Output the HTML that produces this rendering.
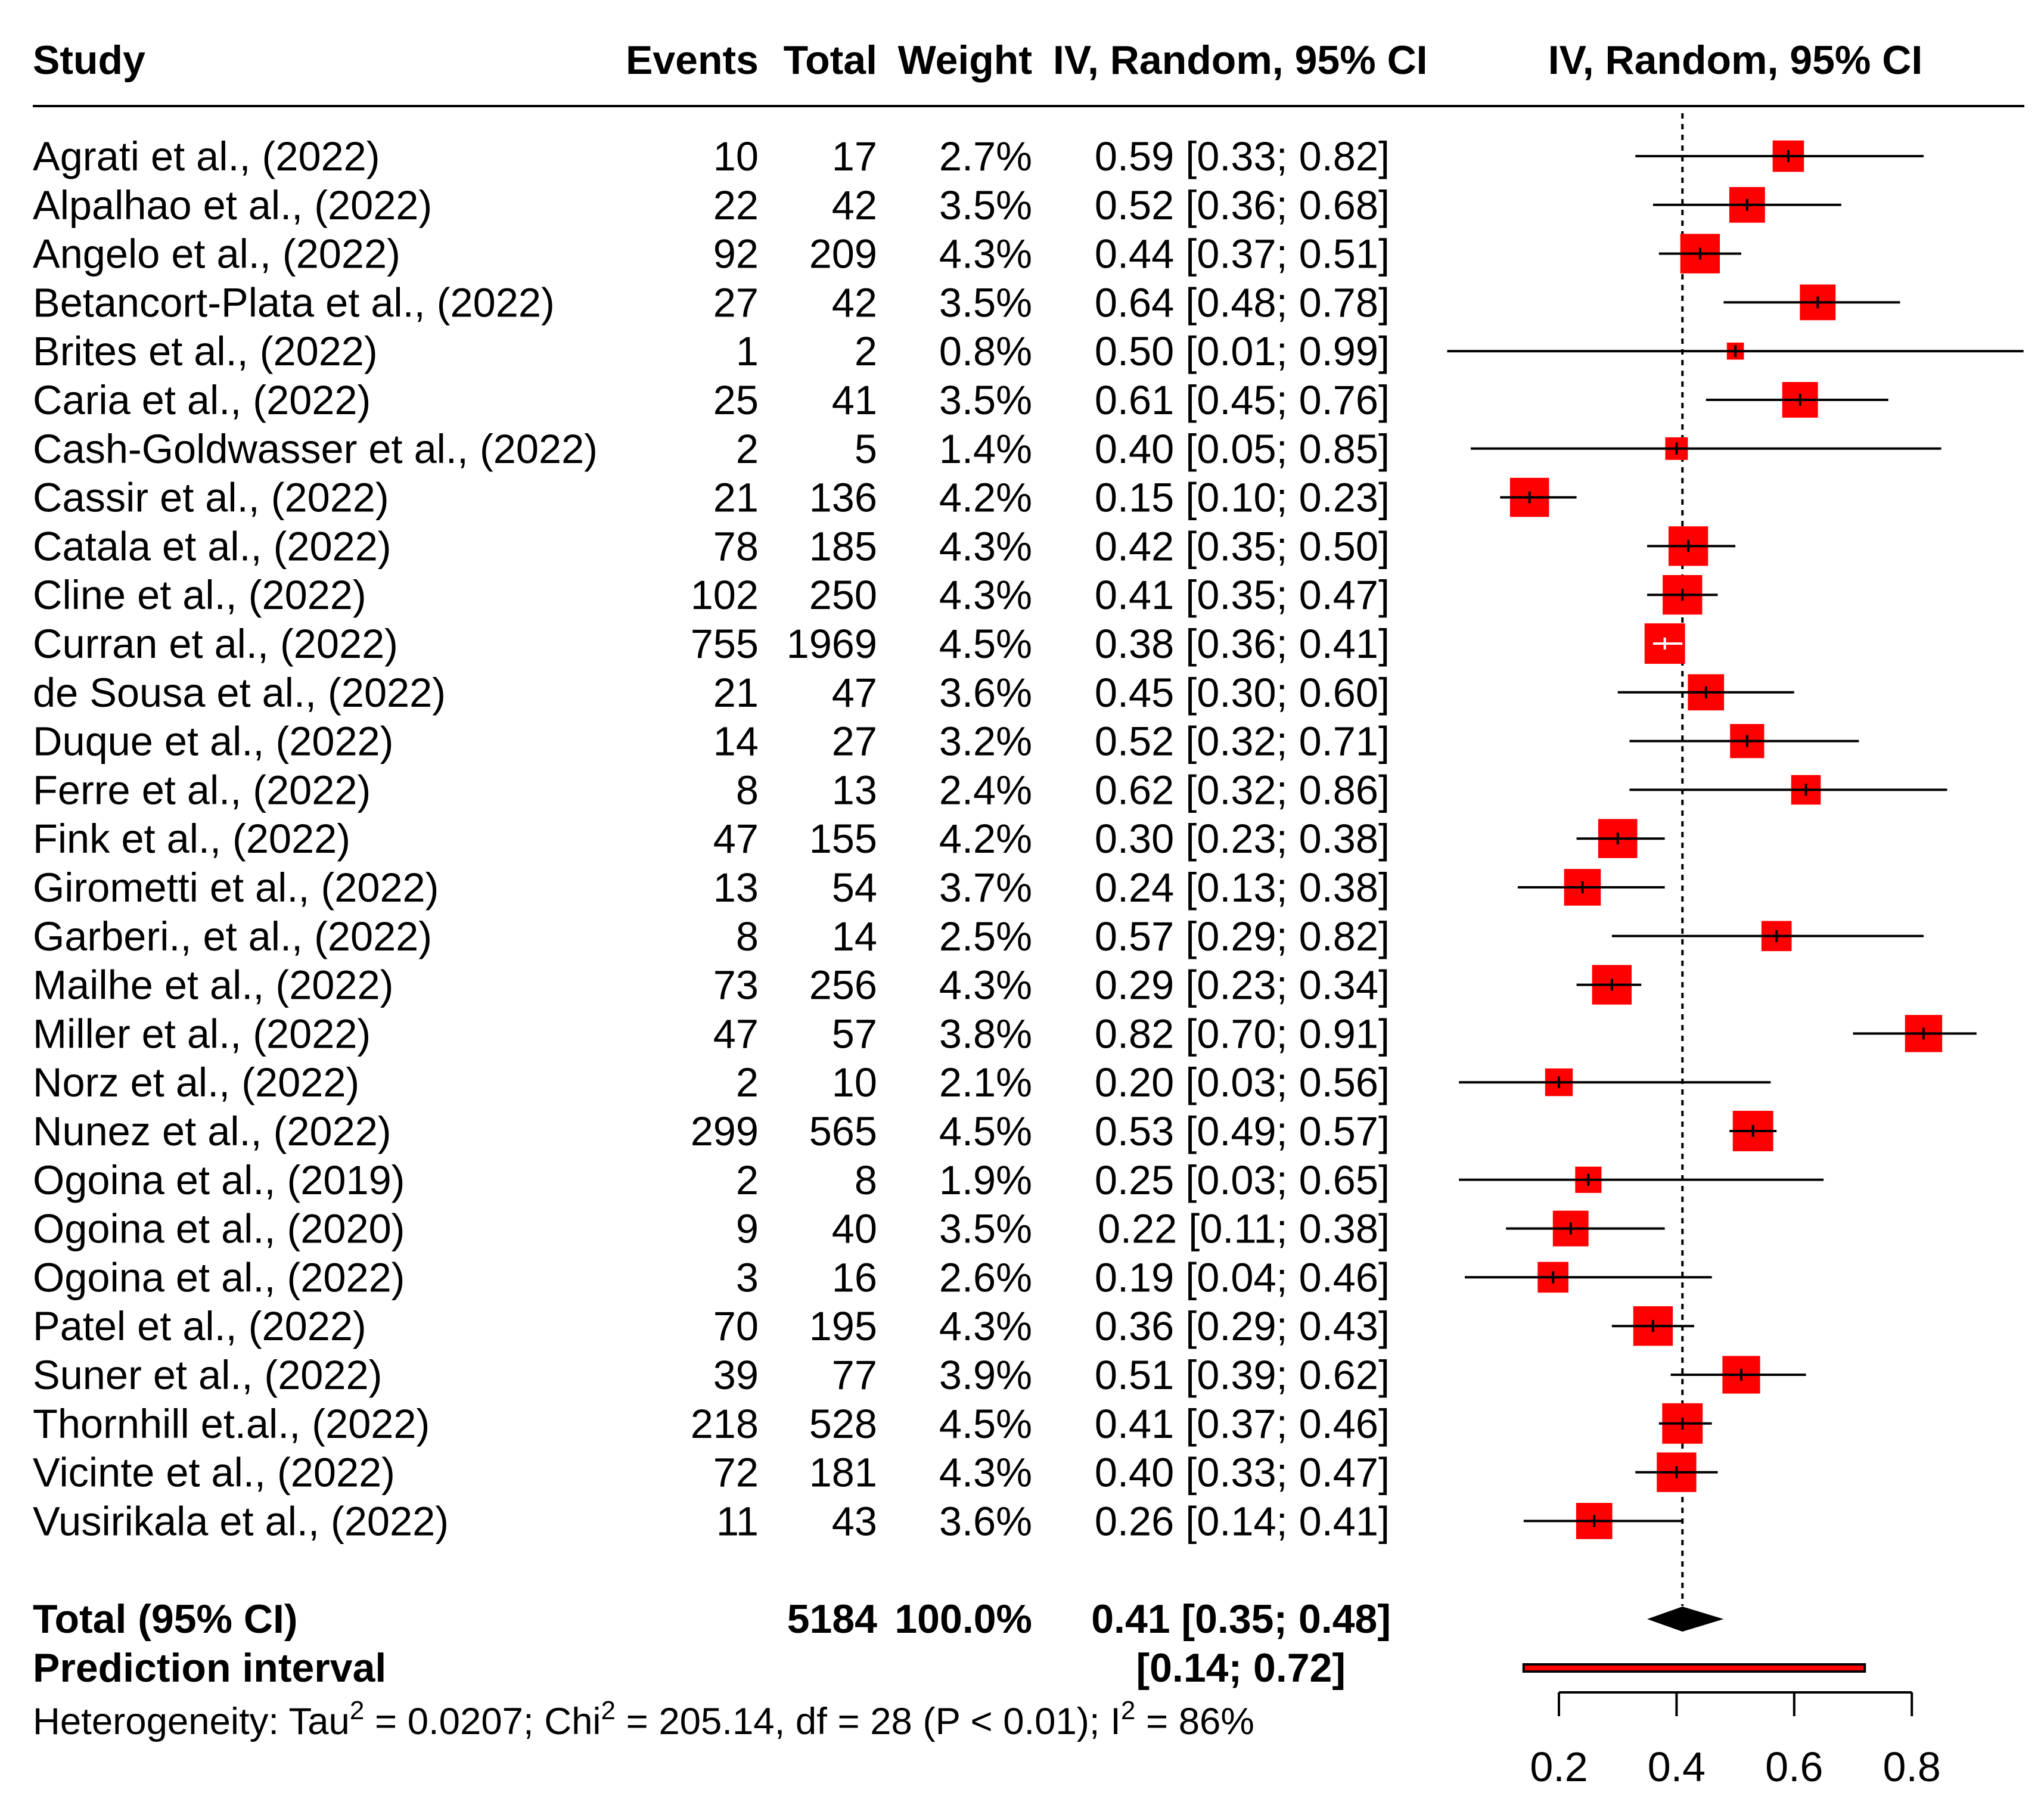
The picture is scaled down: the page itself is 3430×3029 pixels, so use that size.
<!DOCTYPE html>
<html><head><meta charset="utf-8"><style>
html,body{margin:0;padding:0;background:#fff;}
svg{display:block;font-family:"Liberation Sans",Arial,sans-serif;}
</style></head><body>
<svg id="chart" xmlns="http://www.w3.org/2000/svg" width="3430" height="3029" viewBox="0 0 3430 3029">
<rect width="3430" height="3029" fill="#fff"/>
<g font-weight="bold" font-size="68">
<text x="55" y="124">Study</text>
<text x="1273" y="124" text-anchor="end">Events</text>
<text x="1472" y="124" text-anchor="end">Total</text>
<text x="1732" y="124" text-anchor="end">Weight</text>
<text x="1767" y="124">IV, Random, 95% CI</text>
<text x="2912" y="124" text-anchor="middle">IV, Random, 95% CI</text>
</g>
<line x1="55" y1="178" x2="3397" y2="178" stroke="#000" stroke-width="4"/>
<g id="rows"></g>
<g id="plot"></g>
<g font-weight="bold" font-size="68">
<text x="55" y="2740">Total (95% CI)</text>
<text x="1472" y="2740" text-anchor="end">5184</text>
<text x="1732" y="2740" text-anchor="end">100.0%</text>
<text x="2334" y="2740" text-anchor="end">0.41 [0.35; 0.48]</text>
<text x="55" y="2822">Prediction interval</text>
<text x="2258" y="2822" text-anchor="end">[0.14; 0.72]</text>
</g>
<text x="55" y="2910" font-size="63.5">Heterogeneity: Tau<tspan dy="-25" font-size="44">2</tspan><tspan dy="25"> = 0.0207; Chi</tspan><tspan dy="-25" font-size="44">2</tspan><tspan dy="25"> = 205.14, df = 28 (P &lt; 0.01); I</tspan><tspan dy="-25" font-size="44">2</tspan><tspan dy="25"> = 86%</tspan></text>
</svg>
<script>
const studies=["Agrati et al., (2022)","Alpalhao et al., (2022)","Angelo et al., (2022)","Betancort-Plata et al., (2022)","Brites et al., (2022)","Caria et al., (2022)","Cash-Goldwasser et al., (2022)","Cassir et al., (2022)","Catala et al., (2022)","Cline et al., (2022)","Curran et al., (2022)","de Sousa et al., (2022)","Duque et al., (2022)","Ferre et al., (2022)","Fink et al., (2022)","Girometti et al., (2022)","Garberi., et al., (2022)","Mailhe et al., (2022)","Miller et al., (2022)","Norz et al., (2022)","Nunez et al., (2022)","Ogoina et al., (2019)","Ogoina et al., (2020)","Ogoina et al., (2022)","Patel et al., (2022)","Suner et al., (2022)","Thornhill et.al., (2022)","Vicinte et al., (2022)","Vusirikala et al., (2022)"];
const events=[10,22,92,27,1,25,2,21,78,102,755,21,14,8,47,13,8,73,47,2,299,2,9,3,70,39,218,72,11];
const totals=[17,42,209,42,2,41,5,136,185,250,1969,47,27,13,155,54,14,256,57,10,565,8,40,16,195,77,528,181,43];
const weights=[2.7,3.5,4.3,3.5,0.8,3.5,1.4,4.2,4.3,4.3,4.5,3.6,3.2,2.4,4.2,3.7,2.5,4.3,3.8,2.1,4.5,1.9,3.5,2.6,4.3,3.9,4.5,4.3,3.6];
const est=[0.59,0.52,0.44,0.64,0.50,0.61,0.40,0.15,0.42,0.41,0.38,0.45,0.52,0.62,0.30,0.24,0.57,0.29,0.82,0.20,0.53,0.25,0.22,0.19,0.36,0.51,0.41,0.40,0.26];
const lower=[0.33,0.36,0.37,0.48,0.01,0.45,0.05,0.10,0.35,0.35,0.36,0.30,0.32,0.32,0.23,0.13,0.29,0.23,0.70,0.03,0.49,0.03,0.11,0.04,0.29,0.39,0.37,0.33,0.14];
const upper=[0.82,0.68,0.51,0.78,0.99,0.76,0.85,0.23,0.50,0.47,0.41,0.60,0.71,0.86,0.38,0.38,0.82,0.34,0.91,0.56,0.57,0.65,0.38,0.46,0.43,0.62,0.46,0.47,0.41];
const pooled=[0.41,0.35,0.48];
const predInt=[0.14,0.72];
const ticks=[0.2,0.4,0.6,0.8];

const NS="http://www.w3.org/2000/svg";
const x=v=>2616+(v-0.2)*987;
const y=i=>262+i*81.8;
function mk(tag,attrs,parent,txt){const e=document.createElementNS(NS,tag);for(const k in attrs)e.setAttribute(k,attrs[k]);if(txt!==undefined)e.textContent=txt;parent.appendChild(e);return e;}
const rows=document.getElementById('rows'), plot=document.getElementById('plot');
const f=v=>v.toFixed(2);
const ref=mk('line',{x1:x(pooled[0]),x2:x(pooled[0]),y1:190,y2:2695,stroke:'#000','stroke-width':4,'stroke-dasharray':'9 9'},plot);


studies.forEach((s,i)=>{
  const g=mk('g',{'font-size':68.5},rows);
  
  
  const yy=y(i)+24;
  const t1=mk('text',{x:55,y:yy},g,s);
  
  
  const t2=mk('text',{x:1273,y:yy,'text-anchor':'end'},g,events[i]);
  
  
  const t3=mk('text',{x:1472,y:yy,'text-anchor':'end'},g,totals[i]);
  
  
  const t4=mk('text',{x:1732,y:yy,'text-anchor':'end'},g,weights[i].toFixed(1)+'%');
  
  
  const t5=mk('text',{x:2332,y:yy,'text-anchor':'end'},g,f(est[i])+' ['+f(lower[i])+'; '+f(upper[i])+']');
  
  
  const side=32*Math.sqrt(weights[i]);
  const cx=x(est[i]), cy=y(i);
  const box=mk('rect',{x:cx-side/2,y:cy-side/2,width:side,height:side,fill:'#ff0000'},plot);
  
  
  const inside=x(lower[i])>cx-side/2&&x(upper[i])<cx+side/2;
  const col=inside?'#fff':'#000';
  const ln=mk('line',{x1:x(lower[i]),x2:x(upper[i]),y1:cy,y2:cy,stroke:col,'stroke-width':4},plot);
  
  
  const tk=mk('line',{x1:cx,x2:cx,y1:cy-10,y2:cy+10,stroke:col,'stroke-width':4},plot);
  
  
});
const dy=2717;
const dm=mk('polygon',{points:`${x(pooled[1])},${dy} ${x(pooled[0])},${dy-21} ${x(pooled[2])},${dy} ${x(pooled[0])},${dy+21}`,fill:'#000'},plot);


const pb=mk('rect',{x:x(predInt[0]),y:2793,width:x(predInt[1])-x(predInt[0]),height:12,fill:'#ff0000',stroke:'#000','stroke-width':4},plot);


const ax=mk('line',{x1:x(ticks[0]),x2:x(ticks[ticks.length-1]),y1:2840,y2:2840,stroke:'#000','stroke-width':4},plot);


ticks.forEach(t=>{
  const l=mk('line',{x1:x(t),x2:x(t),y1:2840,y2:2880,stroke:'#000','stroke-width':4},plot);
  
  
  const tx=mk('text',{x:x(t),y:2989,'text-anchor':'middle','font-size':70},plot,t.toFixed(1));
  
  
});
</script>
</body></html>
